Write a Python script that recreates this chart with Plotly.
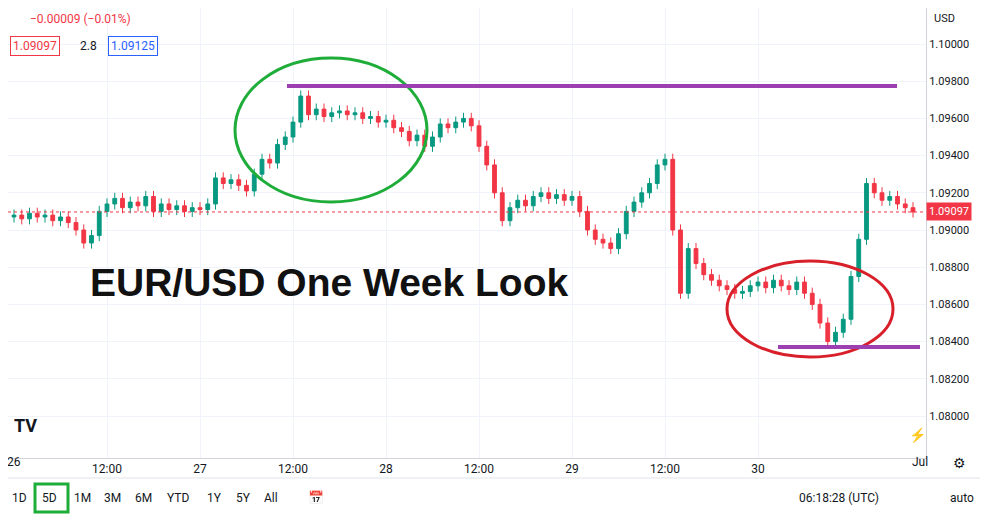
import plotly.graph_objects as go
import pandas as pd

closes = [1.0908,1.0906,1.0909,1.0907,1.0908,1.0905,1.0907,1.0904,1.0900,1.0893,1.0897,1.0910,
1.0914,1.0917,1.0912,1.0915,1.0913,1.0918,1.0910,1.0914,1.0911,1.0913,1.0910,1.0912,
1.0911,1.0914,1.0928,1.0925,1.0927,1.0924,1.0921,1.0930,1.0938,1.0936,1.0946,1.0950,
1.0958,1.0972,1.0962,1.0965,1.0961,1.0963,1.0964,1.0962,1.0963,1.0960,1.0961,1.0958,
1.0959,1.0955,1.0953,1.0948,1.0951,1.0945,1.0950,1.0957,1.0955,1.0958,1.0960,1.0956,
1.0945,1.0935,1.0920,1.0905,1.0912,1.0916,1.0913,1.0918,1.0920,1.0917,1.0919,1.0916,
1.0918,1.0910,1.0900,1.0895,1.0893,1.0890,1.0898,1.0910,1.0915,1.0920,1.0925,1.0935,
1.0938,1.0900,1.0866,1.0890,1.0882,1.0876,1.0873,1.0870,1.0868,1.0866,1.0867,1.0870,
1.0872,1.0869,1.0873,1.0870,1.0868,1.0872,1.0866,1.0860,1.0850,1.0840,1.0845,1.0852,
1.0875,1.0895,1.0925,1.0920,1.0916,1.0918,1.0914,1.0912,1.09097]
wick = 0.0003
opens = [1.0907] + closes[:-1]
highs = [max(o, c) + wick for o, c in zip(opens, closes)]
lows = [min(o, c) - wick for o, c in zip(opens, closes)]
times = pd.date_range("2024-06-26 00:00", periods=len(closes), freq="h")

res_level = 1.09774
sup_level = 1.08371
last_price = 1.09097
y_ticks = [1.08, 1.082, 1.084, 1.086, 1.088, 1.09, 1.092, 1.094, 1.096, 1.098, 1.10]
x_tickvals = ["2024-06-26 12:00", "2024-06-27", "2024-06-27 12:00", "2024-06-28",
              "2024-06-28 12:00", "2024-06-29", "2024-06-29 12:00", "2024-06-30"]
x_ticktext = ["12:00", "27", "12:00", "28", "12:00", "29", "12:00", "30"]

OFF = 8  # page offset
W, H = 918, 450

fig = go.Figure(go.Candlestick(x=times, open=opens, high=highs, low=lows, close=closes,
    increasing=dict(line=dict(color="#089981", width=1), fillcolor="#089981"),
    decreasing=dict(line=dict(color="#F23645", width=1), fillcolor="#F23645"),
    whiskerwidth=0, showlegend=False, hoverinfo="skip"))

start = pd.Timestamp("2024-06-26") - pd.Timedelta(hours=(14 - OFF) / 7.75)
end = start + pd.Timedelta(days=W / 186)
ytop = 1.10 + (44 - OFF) / 18600
ybot = ytop - H / 18600
fig.update_layout(width=988, height=516, margin=dict(l=0, r=70, t=0, b=66),
    paper_bgcolor="white", plot_bgcolor="white", font=dict(family="Roboto", color="#131722", size=12),
    xaxis=dict(range=[start, end], rangeslider=dict(visible=False), tickvals=x_tickvals, ticktext=x_ticktext,
               showgrid=True, gridcolor="#F0F3FA", showline=True, linecolor="#D1D4DC", ticks="", ticklen=0),
    yaxis=dict(range=[ybot, ytop], side="right", tickvals=y_ticks, tickformat=".5f",
               showgrid=True, gridcolor="#F0F3FA", showline=True, linecolor="#D1D4DC", ticks="",
               tickfont=dict(size=11)))

def px(x):
    return (x - OFF) / W
def py(y):
    return 1 - (y - OFF) / H

shapes = [
    dict(type="circle", xref="x domain", yref="y domain", x0=px(235), x1=px(427), y0=py(202), y1=py(58),
         line=dict(color="#1FAD3A", width=3)),
    dict(type="circle", xref="x domain", yref="y domain", x0=px(727), x1=px(893), y0=py(357), y1=py(261),
         line=dict(color="#D8202A", width=3)),
    dict(type="line", xref="x domain", yref="y", x0=px(287), x1=px(897), y0=res_level, y1=res_level,
         line=dict(color="#9C3FB0", width=4)),
    dict(type="line", xref="x domain", yref="y", x0=px(778), x1=px(920), y0=sup_level, y1=sup_level,
         line=dict(color="#9C3FB0", width=4)),
    dict(type="line", xref="x domain", yref="y", x0=0, x1=1, y0=last_price, y1=last_price,
         line=dict(color="#F23645", width=1, dash="dot")),
    dict(type="line", xref="paper", yref="paper", x0=px(0), x1=px(988), y0=py(478), y1=py(478),
         line=dict(color="#E0E3EB", width=1)),
    dict(type="rect", xref="paper", yref="paper", x0=px(35), x1=px(68), y0=py(512), y1=py(484),
         line=dict(color="#1FAD3A", width=3)),
]
fig.update_layout(shapes=shapes)

ann = [
    dict(x=px(88), y=py(282), text="<b>EUR/USD One Week Look</b>", xanchor="left", font=dict(size=39, color="#111", family="Arial")),
    dict(x=px(28), y=py(19), text="−0.00009 (−0.01%)", xanchor="left", font=dict(size=12, color="#F23645")),
    dict(x=px(10), y=py(46), text="1.09097", xanchor="left", font=dict(size=12, color="#F23645"),
         bordercolor="#F23645", borderwidth=1, borderpad=2),
    dict(x=px(78), y=py(46), text="2.8", xanchor="left", font=dict(size=12)),
    dict(x=px(108), y=py(46), text="1.09125", xanchor="left", font=dict(size=12, color="#2962FF"),
         bordercolor="#2962FF", borderwidth=1, borderpad=2),
    dict(x=px(932), y=py(18), text="USD", xanchor="left", font=dict(size=11)),
    dict(x=px(926), y=py(211), text="1.09097", xanchor="left", font=dict(size=11, color="white"),
         bgcolor="#F23645", borderpad=2),
    dict(x=px(14), y=py(462), text="26", xanchor="center", font=dict(size=12)),
    dict(x=px(920), y=py(462), text="Jul", xanchor="center", font=dict(size=12)),
    dict(x=px(25), y=py(425), text="<b>TV</b>", xanchor="center", font=dict(size=18, color="#131722")),
    dict(x=px(917), y=py(435), text="⚡", xanchor="center", font=dict(size=14, color="#9C3FB0")),
    dict(x=px(959), y=py(463), text="⚙", xanchor="center", font=dict(size=14)),
    dict(x=px(10), y=py(498), text="1D", xanchor="left", font=dict(size=12)),
    dict(x=px(40), y=py(498), text="5D", xanchor="left", font=dict(size=12)),
    dict(x=px(72), y=py(498), text="1M", xanchor="left", font=dict(size=12)),
    dict(x=px(102), y=py(498), text="3M", xanchor="left", font=dict(size=12)),
    dict(x=px(133), y=py(498), text="6M", xanchor="left", font=dict(size=12)),
    dict(x=px(165), y=py(498), text="YTD", xanchor="left", font=dict(size=12)),
    dict(x=px(205), y=py(498), text="1Y", xanchor="left", font=dict(size=12)),
    dict(x=px(234), y=py(498), text="5Y", xanchor="left", font=dict(size=12)),
    dict(x=px(262), y=py(498), text="All", xanchor="left", font=dict(size=12)),
    dict(x=px(306), y=py(498), text="📅", xanchor="left", font=dict(size=13)),
    dict(x=px(797), y=py(498), text="06:18:28 (UTC)", xanchor="left", font=dict(size=12)),
    dict(x=px(948), y=py(498), text="auto", xanchor="left", font=dict(size=12)),
]
for a in ann:
    a.update(xref="paper", yref="paper", showarrow=False, yanchor="middle")
fig.update_layout(annotations=ann)
fig.write_html("out.html")
